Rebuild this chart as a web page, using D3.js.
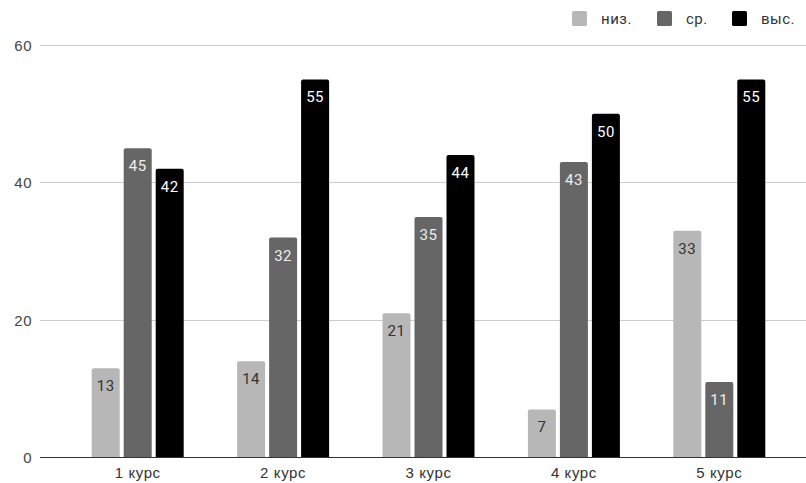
<!DOCTYPE html>
<html>
<head>
<meta charset="utf-8">
<script src="https://cdn.jsdelivr.net/npm/d3@7"></script>
<style>
  html, body { margin: 0; padding: 0; background: #fff; }
  svg { display: block; font-family: Roboto, "Noto Sans", sans-serif; }
</style>
</head>
<body>
<svg id="chart" width="806" height="483"></svg>
<script>
const categories = ["1 курс", "2 курс", "3 курс", "4 курс", "5 курс"];
const seriesNames = ["низ.", "ср.", "выс."];
const lowValues = [13, 14, 21, 7, 33];
const midValues = [45, 32, 35, 43, 11];
const highValues = [42, 55, 44, 50, 55];
const yTicks = [0, 20, 40, 60];

const seriesValues = [lowValues, midValues, highValues];
const colors = ["#b7b7b7", "#666666", "#000000"];
const labelColors = ["#333333", "#eeeeee", "#ffffff"];

const svg = d3.select("#chart");
const plot = { left: 40, right: 806, top: 45, bottom: 457.5 };

const y = d3.scaleLinear().domain([0, 60]).range([plot.bottom, plot.top]);
const x0 = d3.scaleBand().domain(categories).range([65, 792]).paddingInner(0).paddingOuter(0);
const groupWidth = 92;
const x1 = d3.scaleBand().domain(seriesNames).range([0, groupWidth]).paddingInner(0.125).paddingOuter(0);

// Horizontal gridlines
svg.append("g")
  .selectAll("line")
  .data(yTicks.filter(t => t !== 0))
  .join("line")
  .attr("x1", plot.left).attr("x2", plot.right)
  .attr("y1", d => y(d)).attr("y2", d => y(d))
  .attr("stroke", "#cccccc").attr("stroke-width", 1)
  .attr("shape-rendering", "crispEdges");

// Y axis labels
const yAxis = d3.axisLeft(y).tickValues(yTicks).tickSize(0).tickPadding(0);
svg.append("g")
  .attr("transform", `translate(${plot.left - 8},0)`)
  .call(yAxis)
  .call(g => g.select(".domain").remove())
  .call(g => g.selectAll("text").attr("fill", "#444").attr("font-size", 15)
    .attr("letter-spacing", 0.5).attr("dy", "0.35em"));

// Bars
const groups = svg.append("g")
  .selectAll("g")
  .data(categories.map((c, i) => ({ c, vals: seriesValues.map((s, k) => ({ k, v: s[i] })) })))
  .join("g")
  .attr("transform", d => `translate(${x0(d.c) + x0.bandwidth() / 2 - groupWidth / 2},0)`);

const r = 2;
groups.selectAll("path")
  .data(d => d.vals)
  .join("path")
  .attr("fill", d => colors[d.k])
  .attr("d", d => {
    const bx = x1(seriesNames[d.k]), bw = x1.bandwidth();
    const top = y(d.v), bot = y(0);
    return `M${bx},${bot}V${top + r}Q${bx},${top} ${bx + r},${top}H${bx + bw - r}Q${bx + bw},${top} ${bx + bw},${top + r}V${bot}Z`;
  });

groups.selectAll("text")
  .data(d => d.vals)
  .join("text")
  .attr("x", d => x1(seriesNames[d.k]) + x1.bandwidth() / 2)
  .attr("y", d => y(d.v) + 23)
  .attr("text-anchor", "middle")
  .attr("font-size", 15)
  .attr("letter-spacing", 0.5)
  .attr("fill", d => labelColors[d.k])
  .text(d => d.v);

// Baseline
svg.append("line")
  .attr("x1", plot.left).attr("x2", plot.right)
  .attr("y1", y(0)).attr("y2", y(0))
  .attr("stroke", "#333").attr("stroke-width", 1)
  .attr("shape-rendering", "crispEdges");

// X axis labels
const xAxis = d3.axisBottom(x0).tickSize(0).tickPadding(0);
svg.append("g")
  .attr("transform", `translate(0,${plot.bottom + 20.5})`)
  .call(xAxis)
  .call(g => g.select(".domain").remove())
  .call(g => g.selectAll("text").attr("fill", "#333").attr("font-size", 15)
    .attr("letter-spacing", 0.6).attr("dy", "0"));

// Legend
const legendX = [572, 657, 732];
const legend = svg.append("g")
  .selectAll("g")
  .data(seriesNames)
  .join("g")
  .attr("transform", (d, i) => `translate(${legendX[i]},11)`);
legend.append("rect")
  .attr("width", 15).attr("height", 15).attr("rx", 1.5)
  .attr("fill", (d, i) => colors[i]);
legend.append("text")
  .attr("x", 29).attr("y", 13)
  .attr("font-size", 15).attr("letter-spacing", 0.5).attr("fill", "#333")
  .text(d => d);
</script>
</body>
</html>
